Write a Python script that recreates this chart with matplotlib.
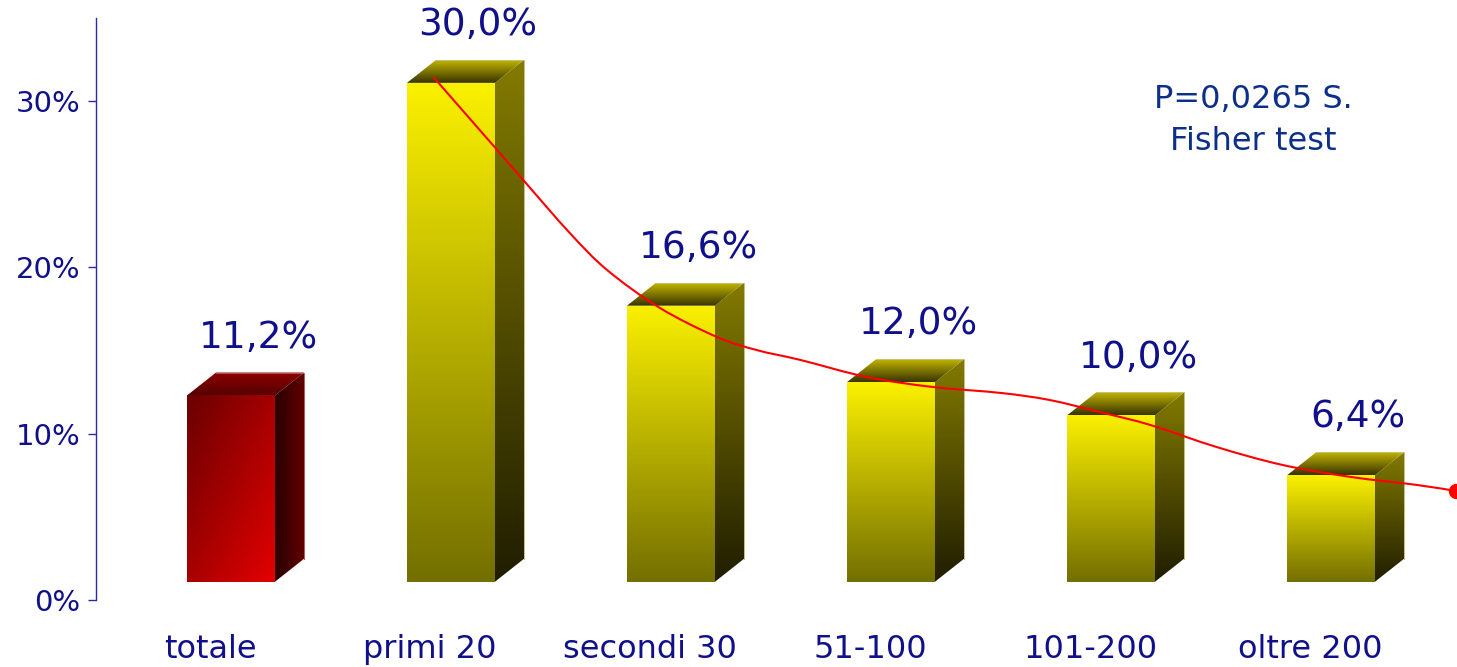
import numpy as np
import matplotlib.pyplot as plt
from matplotlib.patches import Polygon, PathPatch
from matplotlib.path import Path
from matplotlib.colors import LinearSegmentedColormap

# dati
categories = ['totale', 'primi 20', 'secondi 30', '51-100', '101-200', 'oltre 200']
values = [11.2, 30.0, 16.6, 12.0, 10.0, 6.4]
value_labels = ['11,2%', '30,0%', '16,6%', '12,0%', '10,0%', '6,4%']
yticks = [0, 10, 20, 30]
ytick_labels = ['0%', '10%', '20%', '30%']

# curva di tendenza (rossa), posizione in categorie e valore in %
trend_x = [0.92, 1.21, 1.34, 1.54, 1.71, 1.95, 2.21, 2.39, 2.59, 2.89,
           3.19, 3.50, 3.72, 3.95, 4.18, 4.48, 4.78, 5.09, 5.39, 5.57]
trend_y = [31.45, 27.06, 25.08, 22.07, 19.84, 17.56, 15.81, 15.03, 14.43, 13.41,
           12.81, 12.45, 12.03, 11.30, 10.52, 9.20, 8.12, 7.40, 6.92, 6.55]

NAVY = '#10108a'
W, H = 1457, 667

fig = plt.figure(figsize=(W / 100, H / 100), dpi=100)
ax = fig.add_axes([96 / W, 67 / H, 1361 / W, 582 / H])
ax.set_xlim(-0.6136, 5.5727)
ax.set_ylim(0, 35)

# effetto 3D
half = 0.2     # mezza larghezza della faccia frontale
dx = 0.132     # profondita' in x
dy = 1.38      # profondita' in y
base = 1.1

def cm(c0, c1):
    return LinearSegmentedColormap.from_list('', [c0, c1])

yel_front = cm('#747000', '#faf000')
yel_side = cm('#201e00', '#827a00')
yel_top = cm('#383400', '#c0b400')
red_front = cm('#6a0000', '#e40000')
red_side = cm('#2a0000', '#620000')
red_top = cm('#560000', '#8e0000')

def shade(verts, cmap, mode):
    xs = [v[0] for v in verts]
    ys = [v[1] for v in verts]
    gx, gy = np.meshgrid(np.linspace(0, 1, 96), np.linspace(0, 1, 96))
    if mode == 'v':
        z = gy
    elif mode == 'h':
        z = gx
    else:
        z = (gx + (1 - gy)) / 2
    poly = Polygon(verts, closed=True, fc='none', ec='none')
    ax.add_patch(poly)
    im = ax.imshow(z, cmap=cmap, extent=(min(xs), max(xs), min(ys), max(ys)),
                   origin='lower', aspect='auto', interpolation='bilinear', zorder=2)
    im.set_clip_path(poly)

for i, v in enumerate(values):
    top = base + v
    l, r = i - half, i + half
    front = [(l, base), (r, base), (r, top), (l, top)]
    side = [(r, base), (r + dx, base + dy), (r + dx, top + dy), (r, top)]
    lid = [(l, top), (r, top), (r + dx, top + dy), (l + dx, top + dy)]
    if i == 0:
        shade(front, red_front, 'd')
        shade(side, red_side, 'h')
        shade(lid, red_top, 'v')
        edge = '#b85858'
    else:
        shade(front, yel_front, 'v')
        shade(side, yel_side, 'v')
        shade(lid, yel_top, 'v')
        edge = '#c8c078'
    ax.plot([l + dx, r + dx, r + dx], [top + dy, top + dy, base + dy],
            color=edge, lw=0.7, zorder=3)
    ax.text(i + 0.123, top + dy + 2.1, value_labels[i], ha='center', va='center',
            fontsize=27, color=NAVY, zorder=6)
    ax.text(i - 0.095, -3.0, categories[i], ha='center', va='center',
            fontsize=23, color=NAVY, clip_on=False)

# linea smussata: segmenti di Bezier tra i punti letti
pts = np.column_stack([trend_x, trend_y])
verts = [pts[0]]
codes = [Path.MOVETO]
for k in range(len(pts) - 1):
    p0 = pts[k - 1] if k > 0 else pts[k]
    p1, p2 = pts[k], pts[k + 1]
    p3 = pts[k + 2] if k + 2 < len(pts) else pts[k + 1]
    verts += [p1 + (p2 - p0) / 6, p2 - (p3 - p1) / 6, p2]
    codes += [Path.CURVE4] * 3
ax.add_patch(PathPatch(Path(verts, codes), fc='none', ec='#ff0000', lw=1.5, zorder=5))
ax.plot(trend_x[-1], trend_y[-1], 'o', color='#ff0000', ms=10, zorder=5)

ax.text(4.645, 30.07, 'P=0,0265 S.', ha='center', va='center', fontsize=23, color='#0c2f88')
ax.text(4.645, 27.6, 'Fisher test', ha='center', va='center', fontsize=23, color='#0c2f88')

for s in ['top', 'right', 'bottom']:
    ax.spines[s].set_visible(False)
ax.spines['left'].set_color('#2a2aa8')
ax.spines['left'].set_linewidth(1)
ax.set_xticks([])
ax.set_yticks(yticks)
ax.set_yticklabels(ytick_labels)
ax.tick_params(axis='y', length=6, width=1, color='#2a2aa8', labelcolor=NAVY,
               labelsize=21, pad=5)
ax.patch.set_alpha(0)

fig.savefig('out.png', dpi=100)
